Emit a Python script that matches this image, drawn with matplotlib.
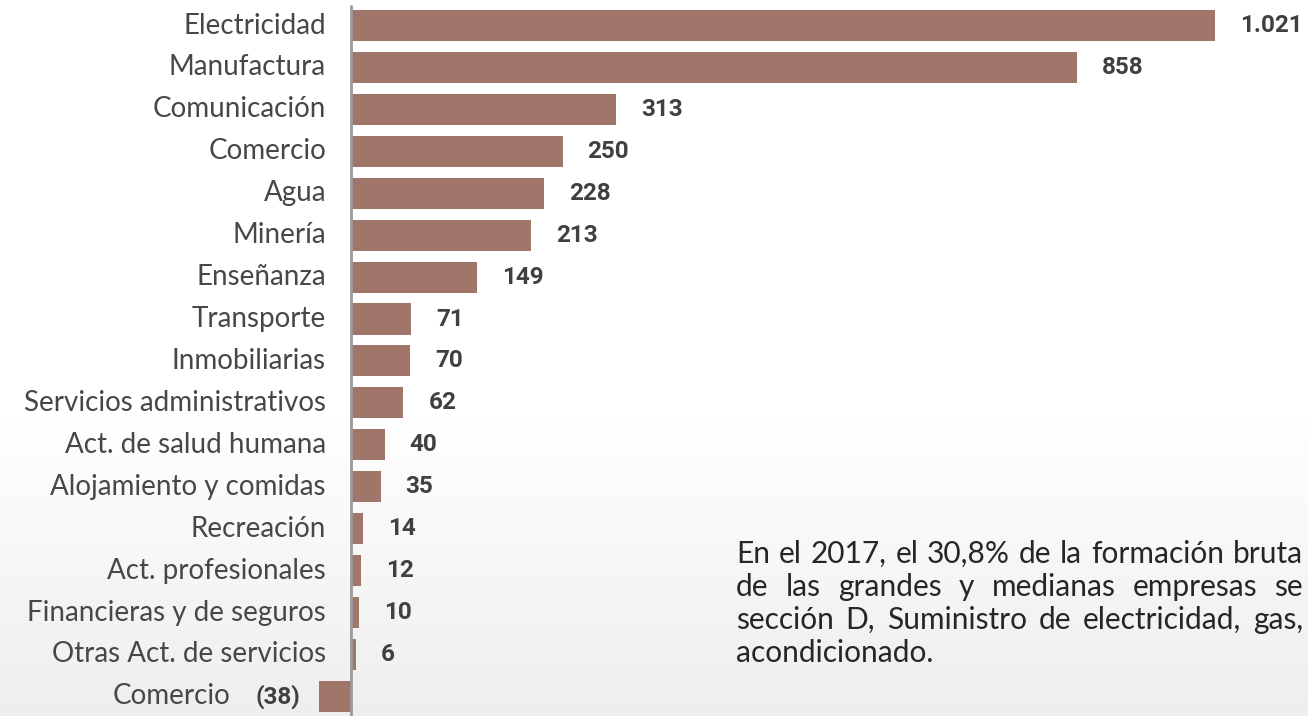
import numpy as np
import matplotlib
matplotlib.use("Agg")
from matplotlib import pyplot as plt

categorias = ["Electricidad", "Manufactura", "Comunicación", "Comercio", "Agua",
              "Minería", "Enseñanza", "Transporte", "Inmobiliarias",
              "Servicios administrativos", "Act. de salud humana",
              "Alojamiento y comidas", "Recreación", "Act. profesionales",
              "Financieras y de seguros", "Otras Act. de servicios", "Comercio"]
valores = [1021, 858, 313, 250, 228, 213, 149, 71, 70, 62, 40, 35, 14, 12, 10, 6, -38]
etiquetas = ["1.021", "858", "313", "250", "228", "213", "149", "71", "70", "62",
             "40", "35", "14", "12", "10", "6", "(38)"]

nota = ["En el 2017, el 30,8% de la formación bruta",
        "de las grandes y medianas empresas se",
        "sección D, Suministro de electricidad, gas,",
        "acondicionado."]

W, H = 1308, 716
fig = plt.figure(figsize=(W / 100, H / 100), dpi=100)

# fondo: blanco arriba, gris claro abajo
bg = fig.add_axes([0, 0, 1, 1])
grad = np.ones((H, 1))
yy = np.arange(H)
grad[:, 0] = np.clip((yy - 400) / (H - 400), 0, 1)
bg.imshow(1 - 0.07 * grad, cmap="gray", vmin=0, vmax=1, aspect="auto",
          extent=[0, 1, 0, 1], origin="upper")
bg.axis("off")

# eje: cero en x=351 px, 0.846 px por unidad
x0 = 351
k = 0.846
ax = fig.add_axes([0, 0, 1, 1])
ax.patch.set_alpha(0)
ax.set_xlim(-x0 / k, (W - x0) / k)
ax.set_ylim((H - 25.5) / 41.93, -25.5 / 41.93)

y = np.arange(len(categorias))
ax.barh(y, valores, height=0.74, color="#a0756a")
ax.plot([0, 0], [-0.5, 17], color="#9a9a9a", lw=2, solid_capstyle="butt")

cat_font = dict(family="Lato", fontsize=20, color="#474747")
val_font = dict(family="Roboto", fontsize=17.5, color="#404040", fontweight="bold")

for i, (c, v, e) in enumerate(zip(categorias, valores, etiquetas)):
    if v >= 0:
        ax.annotate(c, (0, i), xytext=(-25, 0), textcoords="offset pixels",
                    ha="right", va="center", **cat_font)
        ax.annotate(e, (v, i), xytext=(25, 0), textcoords="offset pixels",
                    ha="left", va="center", **val_font)
    else:
        ax.annotate(e, (v, i), xytext=(-18, 0), textcoords="offset pixels",
                    ha="right", va="center", **val_font)
        ax.annotate(c, (0, i), xytext=(-121, 0), textcoords="offset pixels",
                    ha="right", va="center", **cat_font)

ax.axis("off")

# nota justificada
renderer = fig.canvas.get_renderer()
note_font = dict(family="Lato", fontsize=21.5, color="#262626")
left, right = 736, 1303
for j, linea in enumerate(nota):
    base = 563 + 33 * j
    palabras = linea.split(" ")
    if j == len(nota) - 1:
        fig.text(left / W, 1 - base / H, linea, ha="left", va="baseline", **note_font)
        continue
    objs = [fig.text(0, 1 - base / H, p, ha="left", va="baseline", **note_font)
            for p in palabras]
    anchos = [o.get_window_extent(renderer).width for o in objs]
    gap = (right - left - sum(anchos)) / (len(palabras) - 1)
    x = left
    for o, a in zip(objs, anchos):
        o.set_x(x / W)
        x += a + gap

fig.savefig("out.png", dpi=100)
